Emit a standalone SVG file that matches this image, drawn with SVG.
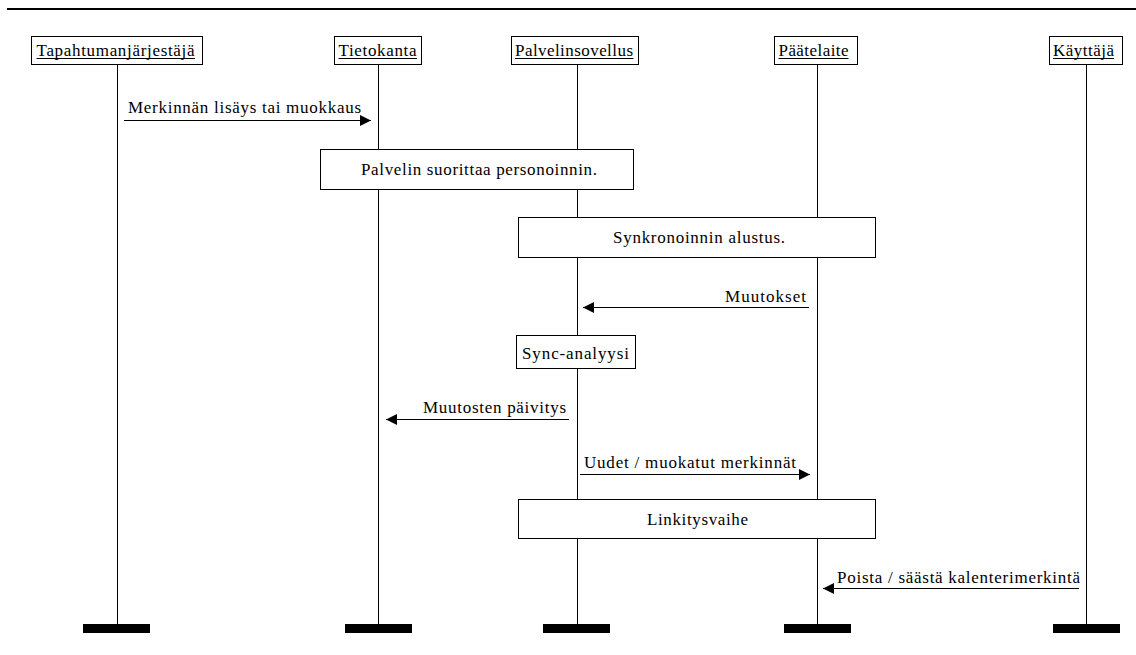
<svg xmlns="http://www.w3.org/2000/svg" width="1136" height="655" viewBox="0 0 1136 655">
  <style>
    .t { font-family: "Liberation Serif", "Times New Roman", serif; font-size: 17px; fill: #000; }
    .ul { stroke: #000; stroke-width: 1; }
    .box { fill: #fff; stroke: #000; stroke-width: 1; }
    .life { stroke: #000; stroke-width: 1; fill: none; }
    .bar { fill: #000; }
    .msg { stroke: #000; stroke-width: 1; fill: none; marker-end: url(#ah); }
  </style>
  <defs>
    <marker id="ah" markerUnits="userSpaceOnUse" markerWidth="11" markerHeight="11" refX="11" refY="5.5" orient="auto">
      <path d="M0,0 L11,5.5 L0,11 Z" fill="#000"/>
    </marker>
  </defs>
  <rect width="1136" height="655" fill="#fff"/>
  <rect x="7" y="8" width="1129" height="2" fill="#000"/>

  <g id="lifelines">
    <line class="life" x1="117.5" y1="64" x2="117.5" y2="624"/>
    <line class="life" x1="378.5" y1="64" x2="378.5" y2="624"/>
    <line class="life" x1="577.5" y1="64" x2="577.5" y2="624"/>
    <line class="life" x1="817.5" y1="64" x2="817.5" y2="624"/>
    <line class="life" x1="1086.5" y1="64" x2="1086.5" y2="624"/>
  </g>

  <g id="actor-tapahtumanjarjestaja">
    <rect class="box" x="31.5" y="36.5" width="171" height="28"/>
    <text class="t" x="36.5" y="56" textLength="158">Tapahtumanjärjestäjä</text>
    <line class="ul" x1="36.5" y1="58.5" x2="195" y2="58.5"/>
    <rect class="bar" x="83" y="624" width="67" height="9"/>
  </g>
  <g id="actor-tietokanta">
    <rect class="box" x="334.5" y="36.5" width="87" height="28"/>
    <text class="t" x="338.5" y="56" textLength="78">Tietokanta</text>
    <line class="ul" x1="338.5" y1="58.5" x2="417" y2="58.5"/>
    <rect class="bar" x="345" y="624" width="67" height="9"/>
  </g>
  <g id="actor-palvelinsovellus">
    <rect class="box" x="511.5" y="36.5" width="127" height="28"/>
    <text class="t" x="515" y="56" textLength="118">Palvelinsovellus</text>
    <line class="ul" x1="515" y1="58.5" x2="633.5" y2="58.5"/>
    <rect class="bar" x="543" y="624" width="67" height="9"/>
  </g>
  <g id="actor-paatelaite">
    <rect class="box" x="774.5" y="36.5" width="83" height="28"/>
    <text class="t" x="778.5" y="56" textLength="70">Päätelaite</text>
    <line class="ul" x1="778.5" y1="58.5" x2="848.5" y2="58.5"/>
    <rect class="bar" x="784" y="624" width="67" height="9"/>
  </g>
  <g id="actor-kayttaja">
    <rect class="box" x="1049.5" y="36.5" width="73" height="28"/>
    <text class="t" x="1053" y="56" textLength="61">Käyttäjä</text>
    <line class="ul" x1="1053" y1="58.5" x2="1114" y2="58.5"/>
    <rect class="bar" x="1053" y="624" width="67" height="9"/>
  </g>

  <g id="step-personointi">
    <rect class="box" x="320.5" y="149.5" width="313" height="40"/>
    <text class="t" x="361" y="175" textLength="236">Palvelin suorittaa personoinnin.</text>
  </g>
  <g id="step-synkronointi">
    <rect class="box" x="518.5" y="217.5" width="357" height="40"/>
    <text class="t" x="613" y="243" textLength="172">Synkronoinnin alustus.</text>
  </g>
  <g id="step-sync-analyysi">
    <rect class="box" x="516.5" y="335.5" width="119" height="33"/>
    <text class="t" x="522" y="359" textLength="107">Sync-analyysi</text>
  </g>
  <g id="step-linkitys">
    <rect class="box" x="518.5" y="499.5" width="357" height="39"/>
    <text class="t" x="647" y="525" textLength="101">Linkitysvaihe</text>
  </g>

  <g id="connectors">
    <line class="msg" x1="124" y1="120.5" x2="371" y2="120.5"/>
    <text class="t" x="128" y="113" textLength="233">Merkinnän lisäys tai muokkaus</text>

    <line class="msg" x1="809" y1="307.5" x2="583" y2="307.5"/>
    <text class="t" x="725" y="302" textLength="81">Muutokset</text>

    <line class="msg" x1="569" y1="419.5" x2="386" y2="419.5"/>
    <text class="t" x="423" y="413" textLength="143">Muutosten päivitys</text>

    <line class="msg" x1="580" y1="474.5" x2="810" y2="474.5"/>
    <text class="t" x="584" y="468" textLength="212">Uudet / muokatut merkinnät</text>

    <line class="msg" x1="1079" y1="588.5" x2="823" y2="588.5"/>
    <text class="t" x="837" y="583" textLength="243">Poista / säästä kalenterimerkintä</text>
  </g>
</svg>
